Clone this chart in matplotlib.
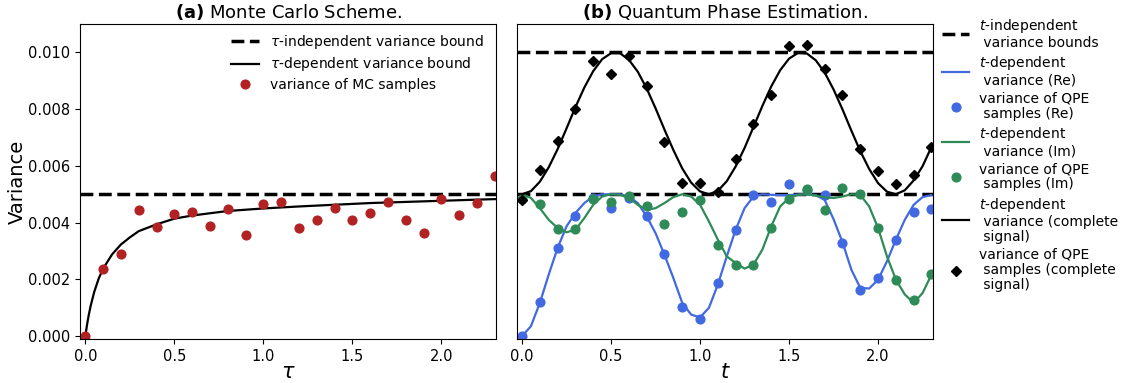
import numpy as np
import matplotlib
matplotlib.use("Agg")
import matplotlib.pyplot as plt

# ---- panel (a): Monte Carlo ----
tau_pts = np.round(np.arange(0, 2.31, 0.1), 2)
var_mc = np.array([0.00, 2.36, 2.91, 4.45, 3.86, 4.30, 4.37, 3.87, 4.47, 3.58,
                   4.64, 4.71, 3.80, 4.11, 4.51, 4.10, 4.33, 4.71, 4.10, 3.65,
                   4.82, 4.27, 4.69, 5.66]) * 1e-3

tau_curve = [0, 0.01, 0.02, 0.03, 0.05, 0.075, 0.1, 0.15, 0.2, 0.25, 0.3, 0.4,
             0.5, 0.6, 0.8, 1.0, 1.2, 1.4, 1.6, 1.8, 2.0, 2.2, 2.31]
bound_tau = np.array([0.00, 0.42, 0.77, 1.07, 1.56, 2.03, 2.38, 2.88, 3.23, 3.48,
                      3.70, 3.94, 4.14, 4.25, 4.41, 4.50, 4.57, 4.63, 4.69, 4.73,
                      4.77, 4.81, 4.83]) * 1e-3
bound_mc = 0.005

# ---- panel (b): QPE ----
t_pts = np.round(np.arange(0, 2.31, 0.1), 2)
var_re = np.array([0.00, 1.19, 3.09, 4.22, 4.86, 4.53, 4.88, 4.24, 2.88, 1.04,
                   0.62, 1.87, 3.75, 4.98, 4.71, 5.37, 5.15, 4.99, 3.28, 1.63,
                   2.04, 3.40, 4.36, 4.47]) * 1e-3
var_im = np.array([4.85, 4.66, 3.79, 3.79, 4.85, 4.72, 4.94, 4.57, 3.96, 4.38,
                   4.79, 3.22, 2.52, 2.52, 3.81, 4.82, 5.18, 4.44, 5.23, 5.00,
                   3.81, 1.99, 1.29, 2.20]) * 1e-3
var_all = np.array([4.79, 5.85, 6.87, 8.01, 9.71, 9.25, 9.86, 8.81, 6.83, 5.41,
                    5.41, 5.09, 6.24, 7.47, 8.48, 10.21, 10.27, 9.40, 8.49, 6.59,
                    5.82, 5.37, 5.67, 6.66]) * 1e-3

t_curve = np.round(np.arange(0, 2.31, 0.05), 2)
curve_re = np.array([0.00, 0.35, 1.17, 2.17, 3.11, 3.87, 4.34, 4.69, 4.92, 5.00,
                     5.00, 5.00, 4.92, 4.69, 4.22, 3.63, 2.87, 2.05, 1.17, 0.76,
                     0.66, 1.00, 1.82, 2.81, 3.75, 4.51, 4.92, 5.00, 4.98, 4.97,
                     4.97, 4.99, 5.00, 4.97, 4.80, 4.12, 3.31, 2.34, 1.70, 1.68,
                     1.99, 2.64, 3.40, 4.10, 4.63, 4.90, 4.97]) * 1e-3
curve_im = np.array([5.00, 4.87, 4.51, 4.10, 3.81, 3.66, 3.75, 4.16, 4.63, 4.92,
                     5.00, 4.98, 4.87, 4.63, 4.45, 4.51, 4.69, 4.90, 5.00, 4.92,
                     4.63, 4.04, 3.40, 2.81, 2.58, 2.38, 2.52, 3.05, 3.87, 4.57,
                     4.87, 4.98, 5.00, 4.95, 4.89, 4.87, 4.92, 5.00, 4.98, 4.57,
                     3.81, 2.81, 1.99, 1.47, 1.17, 1.52, 2.17]) * 1e-3
curve_all = np.array([5.00, 5.11, 5.44, 5.95, 6.59, 7.32, 8.07, 8.76, 9.34, 9.76,
                      9.97, 9.97, 9.74, 9.32, 8.73, 8.03, 7.28, 6.56, 5.91, 5.41,
                      5.10, 5.00, 5.12, 5.46, 5.98, 6.63, 7.37, 8.11, 8.80, 9.37,
                      9.78, 9.98, 9.96, 9.72, 9.29, 8.69, 7.99, 7.24, 6.52, 5.89,
                      5.39, 5.09, 5.00, 5.14, 5.49, 5.99, 6.67]) * 1e-3
bounds_qpe = [0.005, 0.010]

blue = "royalblue"
green = "seagreen"
red = "firebrick"

fig = plt.figure(figsize=(11.22, 3.83), dpi=100)
ax1 = fig.add_axes([0.0713, 0.1149, 0.3712, 0.8225])
ax2 = fig.add_axes([0.4605, 0.1149, 0.3713, 0.8225], sharey=ax1)

# (a)
ax1.axhline(bound_mc, color="k", ls="--", lw=2.5, label=r"$\tau$-independent variance bound")
ax1.plot(tau_curve, bound_tau, color="k", lw=1.6, label=r"$\tau$-dependent variance bound")
ax1.plot(tau_pts, var_mc, "o", color=red, ms=6.3, label="variance of MC samples")
ax1.set_xlim(-0.03, 2.31)
ax1.set_ylim(-0.0001, 0.011)
ax1.set_yticks(np.arange(0, 0.0101, 0.002))
ax1.set_yticklabels(["%.3f" % v for v in np.arange(0, 0.0101, 0.002)])
ax1.set_xticks([0, 0.5, 1.0, 1.5, 2.0])
ax1.tick_params(labelsize=10.5)
ax1.set_xlabel(r"$\tau$", fontsize=15, labelpad=-1)
ax1.set_ylabel("Variance", fontsize=14, labelpad=1)
ax1.set_title(r"$\bf{(a)}$ Monte Carlo Scheme.", fontsize=13, pad=4)
ax1.legend(loc="upper right", bbox_to_anchor=(1.0, 1.01), frameon=False, fontsize=10,
           labelspacing=0.3)

# (b)
ax2.axhline(bounds_qpe[0], color="k", ls="--", lw=2.5,
            label="$t$-independent\n variance bounds")
ax2.axhline(bounds_qpe[1], color="k", ls="--", lw=2.5)
ax2.plot(t_curve, curve_re, color=blue, lw=1.6, label="$t$-dependent\n variance (Re)")
ax2.plot(t_pts, var_re, "o", color=blue, ms=6.3, label="variance of QPE\n samples (Re)")
ax2.plot(t_curve, curve_im, color=green, lw=1.6, label="$t$-dependent\n variance (Im)")
ax2.plot(t_pts, var_im, "o", color=green, ms=6.3, label="variance of QPE\n samples (Im)")
ax2.plot(t_curve, curve_all, color="k", lw=1.6,
         label="$t$-dependent\n variance (complete\n signal)")
ax2.plot(t_pts, var_all, "D", color="k", ms=5.2,
         label="variance of QPE\n samples (complete\n signal)")
ax2.set_xlim(-0.03, 2.31)
ax2.set_xticks([0, 0.5, 1.0, 1.5, 2.0])
ax2.tick_params(labelsize=10.5)
ax2.tick_params(axis="y", left=False, labelleft=False)
ax2.set_xlabel(r"$t$", fontsize=15, labelpad=-1)
ax2.set_title(r"$\bf{(b)}$ Quantum Phase Estimation.", fontsize=13, pad=4)
leg = ax2.legend(loc="upper left", bbox_to_anchor=(1.0, 1.048), frameon=False,
                 fontsize=10, borderaxespad=0.2, labelspacing=0.3, handletextpad=0.7)
for txt in leg.get_texts():
    txt.set_linespacing(1.1)

fig.savefig("out.png", dpi=100)
